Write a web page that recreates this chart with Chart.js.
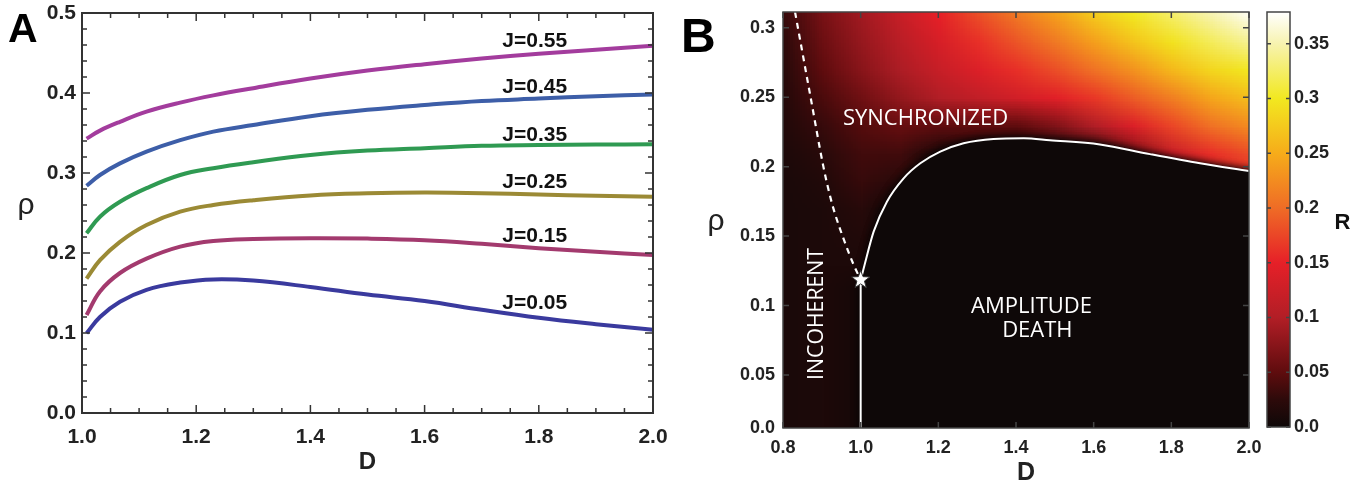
<!DOCTYPE html>
<html lang="en">
<head>
<meta charset="UTF-8" />
<title>Phase diagram</title>
<script src="https://cdn.jsdelivr.net/npm/chart.js"></script>
<style>
    body { margin: 0; background: #ffffff; width: 1367px; height: 485px; overflow: hidden; position: relative; }
    canvas { position: absolute; top: 0; }
    #chartA { left: 0; }
    #chartB { left: 670px; }
    #chartC { left: 1258px; }
</style>
</head>
<body>
<canvas id="chartA" width="670" height="485"></canvas>
<canvas id="chartB" width="612" height="485"></canvas>
<canvas id="chartC" width="109" height="485"></canvas>

<script>
// ---------- panel A data ----------
const dA = [1.008, 1.0315, 1.0665, 1.113, 1.172, 1.23, 1.3, 1.4, 1.5, 1.6, 1.7, 1.8, 1.9, 2.0];
const rhoJ55 = [0.343, 0.353, 0.364, 0.3767, 0.388, 0.397, 0.406, 0.418, 0.428, 0.436, 0.443, 0.449, 0.454, 0.459];
const rhoJ45 = [0.284, 0.2975, 0.312, 0.3267, 0.341, 0.3517, 0.360, 0.371, 0.379, 0.385, 0.390, 0.393, 0.396, 0.398];
const rhoJ35 = [0.2246, 0.2454, 0.264, 0.281, 0.2975, 0.306, 0.3135, 0.3225, 0.328, 0.331, 0.334, 0.335, 0.3355, 0.336];
const rhoJ25 = [0.168, 0.191, 0.214, 0.235, 0.2517, 0.260, 0.266, 0.272, 0.2746, 0.2755, 0.2748, 0.273, 0.2715, 0.2704];
const rhoJ15 = [0.1225, 0.152, 0.175, 0.193, 0.208, 0.215, 0.2175, 0.2185, 0.218, 0.216, 0.2115, 0.206, 0.2015, 0.1975];
const rhoJ05 = [0.0996, 0.120, 0.139, 0.154, 0.163, 0.167, 0.1655, 0.1575, 0.148, 0.140, 0.129, 0.119, 0.111, 0.104];
const jNames = ['J=0.55', 'J=0.45', 'J=0.35', 'J=0.25', 'J=0.15', 'J=0.05'];
const jColors = ['#a33c9d', '#3d5ea8', '#2f9a52', '#9b8a35', '#a33a6e', '#3a3a9e'];
const jLabelD = 1.736;
const jLabelRho = [0.458, 0.4004, 0.3404, 0.281, 0.214, 0.130];
const xTicksA = [1.0, 1.2, 1.4, 1.6, 1.8, 2.0];
const yTicksA = [0.0, 0.1, 0.2, 0.3, 0.4, 0.5];

// ---------- panel B data ----------
const bndD = [1.0, 1.010, 1.0334, 1.0676, 1.1106, 1.1536, 1.205, 1.265, 1.342, 1.42, 1.487, 1.616, 1.745, 1.874, 2.0];
const bndRho = [0.1185, 0.1292, 0.1532, 0.1748, 0.1916, 0.2024, 0.2108, 0.2168, 0.2199, 0.2204, 0.219, 0.216, 0.209, 0.2024, 0.1968];
const dashD = [0.831, 0.871, 0.904, 0.921, 0.934, 0.960, 0.981, 1.0];
const dashRho = [0.3113, 0.25, 0.2, 0.179, 0.166, 0.145, 0.130, 0.1185];
const starD = 1.0, starRho = 0.1185;
const yMinB = 0.0119, yMaxB = 0.3113;
const xTicksB = [0.8, 1.0, 1.2, 1.4, 1.6, 1.8, 2.0];
const yTicksB = [0.05, 0.1, 0.15, 0.2, 0.25, 0.3];

// R(D, rho): columns heatD, rows heatRho (top to bottom)
const heatD = [0.8, 0.9, 1.0, 1.1, 1.2, 1.3, 1.4, 1.5, 1.6, 1.7, 1.8, 1.9, 2.0];
const heatRho = [0.31, 0.29, 0.27, 0.25, 0.23, 0.21, 0.19, 0.17, 0.15, 0.13, 0.11, 0.09, 0.07, 0.05, 0.03, 0.01];
const heatR = [
    [0.03, 0.065, 0.09, 0.12, 0.15, 0.18, 0.21, 0.24, 0.275, 0.30, 0.325, 0.35, 0.375],
    [0.025, 0.058, 0.083, 0.108, 0.135, 0.16, 0.185, 0.21, 0.24, 0.27, 0.295, 0.32, 0.34],
    [0.02, 0.05, 0.075, 0.097, 0.12, 0.14, 0.16, 0.18, 0.205, 0.23, 0.26, 0.285, 0.30],
    [0.018, 0.04, 0.06, 0.082, 0.10, 0.115, 0.13, 0.145, 0.165, 0.19, 0.215, 0.245, 0.265],
    [0.015, 0.03, 0.045, 0.055, 0.05, 0.05, 0.05, 0.07, 0.10, 0.14, 0.175, 0.205, 0.225],
    [0.012, 0.022, 0.035, 0.035, 0.01, 0, 0, 0, 0.02, 0.07, 0.12, 0.16, 0.18],
    [0.01, 0.015, 0.03, 0.02, 0, 0, 0, 0, 0, 0, 0.06, 0.12, 0.15],
    [0.01, 0.012, 0.02, 0, 0, 0, 0, 0, 0, 0, 0, 0.04, 0.08],
    [0.01, 0.012, 0.015, 0, 0, 0, 0, 0, 0, 0, 0, 0, 0],
    [0.01, 0.012, 0.012, 0, 0, 0, 0, 0, 0, 0, 0, 0, 0],
    [0.01, 0.012, 0.006, 0, 0, 0, 0, 0, 0, 0, 0, 0, 0],
    [0.01, 0.012, 0.006, 0, 0, 0, 0, 0, 0, 0, 0, 0, 0],
    [0.01, 0.012, 0.006, 0, 0, 0, 0, 0, 0, 0, 0, 0, 0],
    [0.01, 0.012, 0.006, 0, 0, 0, 0, 0, 0, 0, 0, 0, 0],
    [0.01, 0.012, 0.006, 0, 0, 0, 0, 0, 0, 0, 0, 0, 0],
    [0.01, 0.012, 0.006, 0, 0, 0, 0, 0, 0, 0, 0, 0, 0]
];

// colour bar
const rMax = 0.379;
const rTicks = [0.0, 0.05, 0.1, 0.15, 0.2, 0.25, 0.3, 0.35];
const cmapStops = [0, 0.025, 0.05, 0.1, 0.15, 0.2, 0.25, 0.3, 0.35, 0.38];
const cmapColors = [[14, 8, 8], [45, 10, 10], [95, 12, 14], [178, 30, 38], [230, 32, 40], [239, 108, 38],
    [246, 172, 26], [242, 232, 32], [247, 243, 175], [255, 255, 255]];

// ---------- helpers ----------
const TICK_FONT = 'Liberation Sans, Arial, sans-serif';

function cmap(v) {
    if (v <= cmapStops[0]) return cmapColors[0];
    for (let i = 1; i < cmapStops.length; i++) {
        if (v <= cmapStops[i]) {
            const t = (v - cmapStops[i - 1]) / (cmapStops[i] - cmapStops[i - 1]);
            const a = cmapColors[i - 1], b = cmapColors[i];
            return [0, 1, 2].map(k => Math.round(a[k] + (b[k] - a[k]) * t));
        }
    }
    return cmapColors[cmapColors.length - 1];
}

function pts(xs, ys) {
    return xs.map((x, i) => ({ x: x, y: ys[i] }));
}

function fmt(v, digits) {
    return Number(v.toFixed(digits)).toString();
}

// frame round the plot area with inward tick marks on all four sides
function framePlugin(o) {
    return {
        id: 'frame',
        afterDraw(chart) {
            const { ctx, chartArea: a, scales: { x, y } } = chart;
            ctx.save();
            ctx.strokeStyle = o.color;
            ctx.lineWidth = o.width;
            ctx.strokeRect(a.left, a.top, a.right - a.left, a.bottom - a.top);
            ctx.lineWidth = o.tickWidth;
            ctx.beginPath();
            const walk = (min, max, minor, major, fn) => {
                const start = Math.ceil(min / minor - 1e-6);
                const end = Math.floor(max / minor + 1e-6);
                for (let i = start; i <= end; i++) {
                    const v = i * minor;
                    const isMajor = Math.abs(v / major - Math.round(v / major)) < 1e-6;
                    fn(v, isMajor ? o.major : o.minor);
                }
            };
            walk(x.min, x.max, o.xMinor, o.xMajor, (v, len) => {
                const px = x.getPixelForValue(v);
                ctx.moveTo(px, a.bottom); ctx.lineTo(px, a.bottom - len);
                ctx.moveTo(px, a.top); ctx.lineTo(px, a.top + len);
            });
            walk(y.min, y.max, o.yMinor, o.yMajor, (v, len) => {
                const py = y.getPixelForValue(v);
                ctx.moveTo(a.left, py); ctx.lineTo(a.left + len, py);
                ctx.moveTo(a.right, py); ctx.lineTo(a.right - len, py);
            });
            ctx.stroke();
            ctx.restore();
        }
    };
}

function fitBox(w, h) {
    return function (scale) {
        if (w !== null) scale.width = w;
        if (h !== null) scale.height = h;
        scale.paddingLeft = 0; scale.paddingRight = 0;
        scale.paddingTop = 0; scale.paddingBottom = 0;
    };
}

// ---------- panel A ----------
const seriesA = [rhoJ55, rhoJ45, rhoJ35, rhoJ25, rhoJ15, rhoJ05];

const textA = {
    id: 'textA',
    afterDatasetsDraw(chart) {
        const { ctx, scales: { x, y } } = chart;
        ctx.save();
        ctx.fillStyle = '#111';
        ctx.font = 'bold 21px ' + TICK_FONT;
        ctx.textAlign = 'left';
        ctx.textBaseline = 'alphabetic';
        jNames.forEach((n, i) => ctx.fillText(n, x.getPixelForValue(jLabelD), y.getPixelForValue(jLabelRho[i])));
        ctx.restore();
    },
    afterDraw(chart) {
        const { ctx, chartArea: a } = chart;
        ctx.save();
        ctx.fillStyle = '#000';
        ctx.textBaseline = 'alphabetic';
        ctx.font = 'bold 41px ' + TICK_FONT;
        ctx.textAlign = 'left';
        ctx.fillText('A', 8, 42);
        ctx.font = '30px ' + TICK_FONT;
        ctx.textAlign = 'center';
        ctx.fillStyle = '#222';
        ctx.fillText('ρ', 26, 214);
        ctx.font = 'bold 24px ' + TICK_FONT;
        ctx.fillText('D', (a.left + a.right) / 2, 469);
        ctx.restore();
    }
};

new Chart(document.getElementById('chartA'), {
    type: 'line',
    data: {
        datasets: seriesA.map((s, i) => ({
            label: jNames[i],
            data: pts(dA, s),
            borderColor: jColors[i],
            borderWidth: 4,
            pointRadius: 0,
            tension: 0.4,
            fill: false
        }))
    },
    options: {
        responsive: false,
        animation: false,
        layout: { padding: { left: 0, right: 17, top: 13, bottom: 0 } },
        plugins: { legend: { display: false }, tooltip: { enabled: false } },
        scales: {
            x: {
                type: 'linear', min: 1.0, max: 2.0,
                afterBuildTicks: s => { s.ticks = xTicksA.map(v => ({ value: v })); },
                afterFit: fitBox(null, 72),
                grid: { display: false, drawTicks: false }, border: { display: false },
                ticks: { autoSkip: false, maxRotation: 0, padding: 12, color: '#222',
                    font: { family: TICK_FONT, weight: 'bold', size: 21 },
                    callback: v => v.toFixed(1) }
            },
            y: {
                type: 'linear', min: 0, max: 0.5,
                afterBuildTicks: s => { s.ticks = yTicksA.map(v => ({ value: v })); },
                afterFit: fitBox(82, null),
                grid: { display: false, drawTicks: false }, border: { display: false },
                ticks: { autoSkip: false, padding: 6, color: '#222',
                    font: { family: TICK_FONT, weight: 'bold', size: 21 },
                    callback: v => v.toFixed(1) }
            }
        }
    },
    plugins: [textA, framePlugin({ color: '#333', width: 2, tickWidth: 1.5, major: 8, minor: 5,
        xMinor: 0.05, xMajor: 0.2, yMinor: 0.02, yMajor: 0.1 })]
});

// ---------- panel B ----------
const heatPlugin = {
    id: 'heat',
    beforeDatasetsDraw(chart) {
        const { ctx, chartArea: a, scales: { x, y } } = chart;
        const off = document.createElement('canvas');
        off.width = heatD.length;
        off.height = heatRho.length;
        const octx = off.getContext('2d');
        const img = octx.createImageData(off.width, off.height);
        heatR.forEach((row, j) => row.forEach((v, i) => {
            const c = cmap(v);
            const k = (j * off.width + i) * 4;
            img.data[k] = c[0]; img.data[k + 1] = c[1]; img.data[k + 2] = c[2]; img.data[k + 3] = 255;
        }));
        octx.putImageData(img, 0, 0);
        const hx = (heatD[1] - heatD[0]) / 2, hy = (heatRho[0] - heatRho[1]) / 2;
        const x0 = x.getPixelForValue(heatD[0] - hx), x1 = x.getPixelForValue(heatD[heatD.length - 1] + hx);
        const y0 = y.getPixelForValue(heatRho[0] + hy), y1 = y.getPixelForValue(heatRho[heatRho.length - 1] - hy);

        ctx.save();
        ctx.beginPath();
        ctx.rect(a.left, a.top, a.right - a.left, a.bottom - a.top);
        ctx.clip();
        ctx.fillStyle = 'rgb(14,8,8)';
        ctx.fillRect(a.left, a.top, a.right - a.left, a.bottom - a.top);
        ctx.imageSmoothingEnabled = true;
        ctx.drawImage(off, x0, y0, x1 - x0, y1 - y0);

        // amplitude death region: below the boundary curve, with a dark glow
        const meta = chart.getDatasetMeta(0);
        const line = meta.dataset;
        const p = meta.data;
        ctx.beginPath();
        let ok = false;
        try {
            line.updateControlPoints(a, 'x');
            line.path(ctx);
            ok = true;
        } catch (e) { ok = false; }
        if (!ok) {
            ctx.beginPath();
            p.forEach((q, i) => i ? ctx.lineTo(q.x, q.y) : ctx.moveTo(q.x, q.y));
        }
        const last = p[p.length - 1];
        ctx.lineTo(a.right + 40, last.y);
        ctx.lineTo(a.right + 40, a.bottom + 40);
        ctx.lineTo(p[0].x, a.bottom + 40);
        ctx.closePath();
        ctx.fillStyle = 'rgb(14,8,8)';
        ctx.shadowColor = 'rgba(10,5,5,1)';
        ctx.shadowBlur = 9;
        ctx.fill();
        ctx.fill();
        ctx.restore();
    },
    afterDatasetsDraw(chart) {
        const { ctx, scales: { x, y } } = chart;
        // star at the meeting point
        const cx = x.getPixelForValue(starD), cy = y.getPixelForValue(starRho);
        ctx.save();
        ctx.beginPath();
        for (let i = 0; i < 10; i++) {
            const r = i % 2 ? 4 : 9.5;
            const ang = -Math.PI / 2 + i * Math.PI / 5;
            const px = cx + r * Math.cos(ang), py = cy + r * Math.sin(ang);
            i ? ctx.lineTo(px, py) : ctx.moveTo(px, py);
        }
        ctx.closePath();
        ctx.fillStyle = '#ffffff';
        ctx.strokeStyle = '#333';
        ctx.lineWidth = 1;
        ctx.fill();
        ctx.stroke();

        // region names
        ctx.fillStyle = '#ffffff';
        ctx.font = '22px "Open Sans", sans-serif';
        ctx.textAlign = 'center';
        ctx.textBaseline = 'alphabetic';
        ctx.fillText('SYNCHRONIZED', x.getPixelForValue(1.167), y.getPixelForValue(0.230), 166);
        ctx.fillText('AMPLITUDE', x.getPixelForValue(1.44), y.getPixelForValue(0.0947), 146);
        ctx.fillText('DEATH', x.getPixelForValue(1.455), y.getPixelForValue(0.0774), 72);
        ctx.translate(x.getPixelForValue(0.886), y.getPixelForValue(0.094));
        ctx.rotate(-Math.PI / 2);
        ctx.textBaseline = 'middle';
        ctx.fillText('INCOHERENT', 0, 0, 132);
        ctx.restore();
    },
    afterDraw(chart) {
        const { ctx } = chart;
        ctx.save();
        ctx.fillStyle = '#000';
        ctx.textBaseline = 'alphabetic';
        ctx.textAlign = 'left';
        ctx.font = 'bold 48px ' + TICK_FONT;
        ctx.fillText('B', 11, 52);
        ctx.fillStyle = '#222';
        ctx.textAlign = 'center';
        ctx.font = '30px ' + TICK_FONT;
        ctx.fillText('ρ', 46, 230);
        ctx.font = 'bold 25px ' + TICK_FONT;
        ctx.fillText('D', 356, 480);
        ctx.restore();
    }
};

new Chart(document.getElementById('chartB'), {
    type: 'line',
    data: {
        datasets: [
            { data: pts(bndD, bndRho), borderColor: '#ffffff', borderWidth: 2, pointRadius: 0,
              cubicInterpolationMode: 'monotone', fill: false },
            { data: pts([starD, starD], [0, starRho]), borderColor: '#ffffff', borderWidth: 2, pointRadius: 0, fill: false },
            { data: pts(dashD, dashRho), borderColor: '#ffffff', borderWidth: 2.2, borderDash: [6, 5],
              pointRadius: 0, cubicInterpolationMode: 'monotone', fill: false }
        ]
    },
    options: {
        responsive: false,
        animation: false,
        layout: { padding: { left: 0, right: 33, top: 12, bottom: 0 } },
        plugins: { legend: { display: false }, tooltip: { enabled: false } },
        scales: {
            x: {
                type: 'linear', min: 0.8, max: 2.0,
                afterBuildTicks: s => { s.ticks = xTicksB.map(v => ({ value: v })); },
                afterFit: fitBox(null, 57),
                grid: { display: false, drawTicks: false }, border: { display: false },
                ticks: { autoSkip: false, maxRotation: 0, padding: 9, color: '#222',
                    font: { family: TICK_FONT, weight: 'bold', size: 18 },
                    callback: v => v.toFixed(1) }
            },
            y: {
                type: 'linear', min: yMinB, max: yMaxB,
                afterBuildTicks: s => { s.ticks = [{ value: yMinB }].concat(yTicksB.map(v => ({ value: v }))); },
                afterFit: fitBox(113, null),
                grid: { display: false, drawTicks: false }, border: { display: false },
                ticks: { autoSkip: false, padding: 8, color: '#222',
                    font: { family: TICK_FONT, weight: 'bold', size: 18 },
                    callback: v => (v === yMinB ? '0.0' : fmt(v, 2)) }
            }
        }
    },
    plugins: [heatPlugin, framePlugin({ color: '#444', width: 1.5, tickWidth: 1.5, major: 6, minor: 6,
        xMinor: 0.2, xMajor: 0.2, yMinor: 0.05, yMajor: 0.05 })]
});

// ---------- colour bar ----------
const barPlugin = {
    id: 'bar',
    beforeDatasetsDraw(chart) {
        const { ctx, chartArea: a, scales: { y } } = chart;
        const g = ctx.createLinearGradient(0, a.bottom, 0, a.top);
        const span = a.bottom - a.top;
        cmapStops.forEach((s, i) => {
            const t = Math.min(1, Math.max(0, (a.bottom - y.getPixelForValue(s)) / span));
            const c = cmapColors[i];
            g.addColorStop(t, 'rgb(' + c.join(',') + ')');
        });
        ctx.save();
        ctx.fillStyle = g;
        ctx.fillRect(a.left, a.top, a.right - a.left, span);
        ctx.strokeStyle = '#444';
        ctx.lineWidth = 1.5;
        ctx.strokeRect(a.left, a.top, a.right - a.left, span);
        ctx.beginPath();
        rTicks.forEach(v => {
            const py = y.getPixelForValue(v);
            ctx.moveTo(a.left, py); ctx.lineTo(a.left + 4, py);
            ctx.moveTo(a.right, py); ctx.lineTo(a.right - 4, py);
        });
        ctx.stroke();
        ctx.fillStyle = '#111';
        ctx.font = 'bold 22px ' + TICK_FONT;
        ctx.textAlign = 'center';
        ctx.textBaseline = 'alphabetic';
        ctx.fillText('R', 84.5, 229);
        ctx.restore();
    }
};

new Chart(document.getElementById('chartC'), {
    type: 'line',
    data: { datasets: [{ data: [] }] },
    options: {
        responsive: false,
        animation: false,
        layout: { padding: { left: 9, right: 0, top: 12, bottom: 58 } },
        plugins: { legend: { display: false }, tooltip: { enabled: false } },
        scales: {
            x: { type: 'linear', display: false, min: 0, max: 1 },
            y: {
                type: 'linear', position: 'right', min: 0, max: rMax,
                afterBuildTicks: s => { s.ticks = rTicks.map(v => ({ value: v })); },
                afterFit: fitBox(77, null),
                grid: { display: false, drawTicks: false }, border: { display: false },
                ticks: { autoSkip: false, padding: 4, color: '#222',
                    font: { family: TICK_FONT, weight: 'bold', size: 18 },
                    callback: v => (v === 0 ? '0.0' : fmt(v, 2)) }
            }
        }
    },
    plugins: [barPlugin]
});
</script>
</body>
</html>
